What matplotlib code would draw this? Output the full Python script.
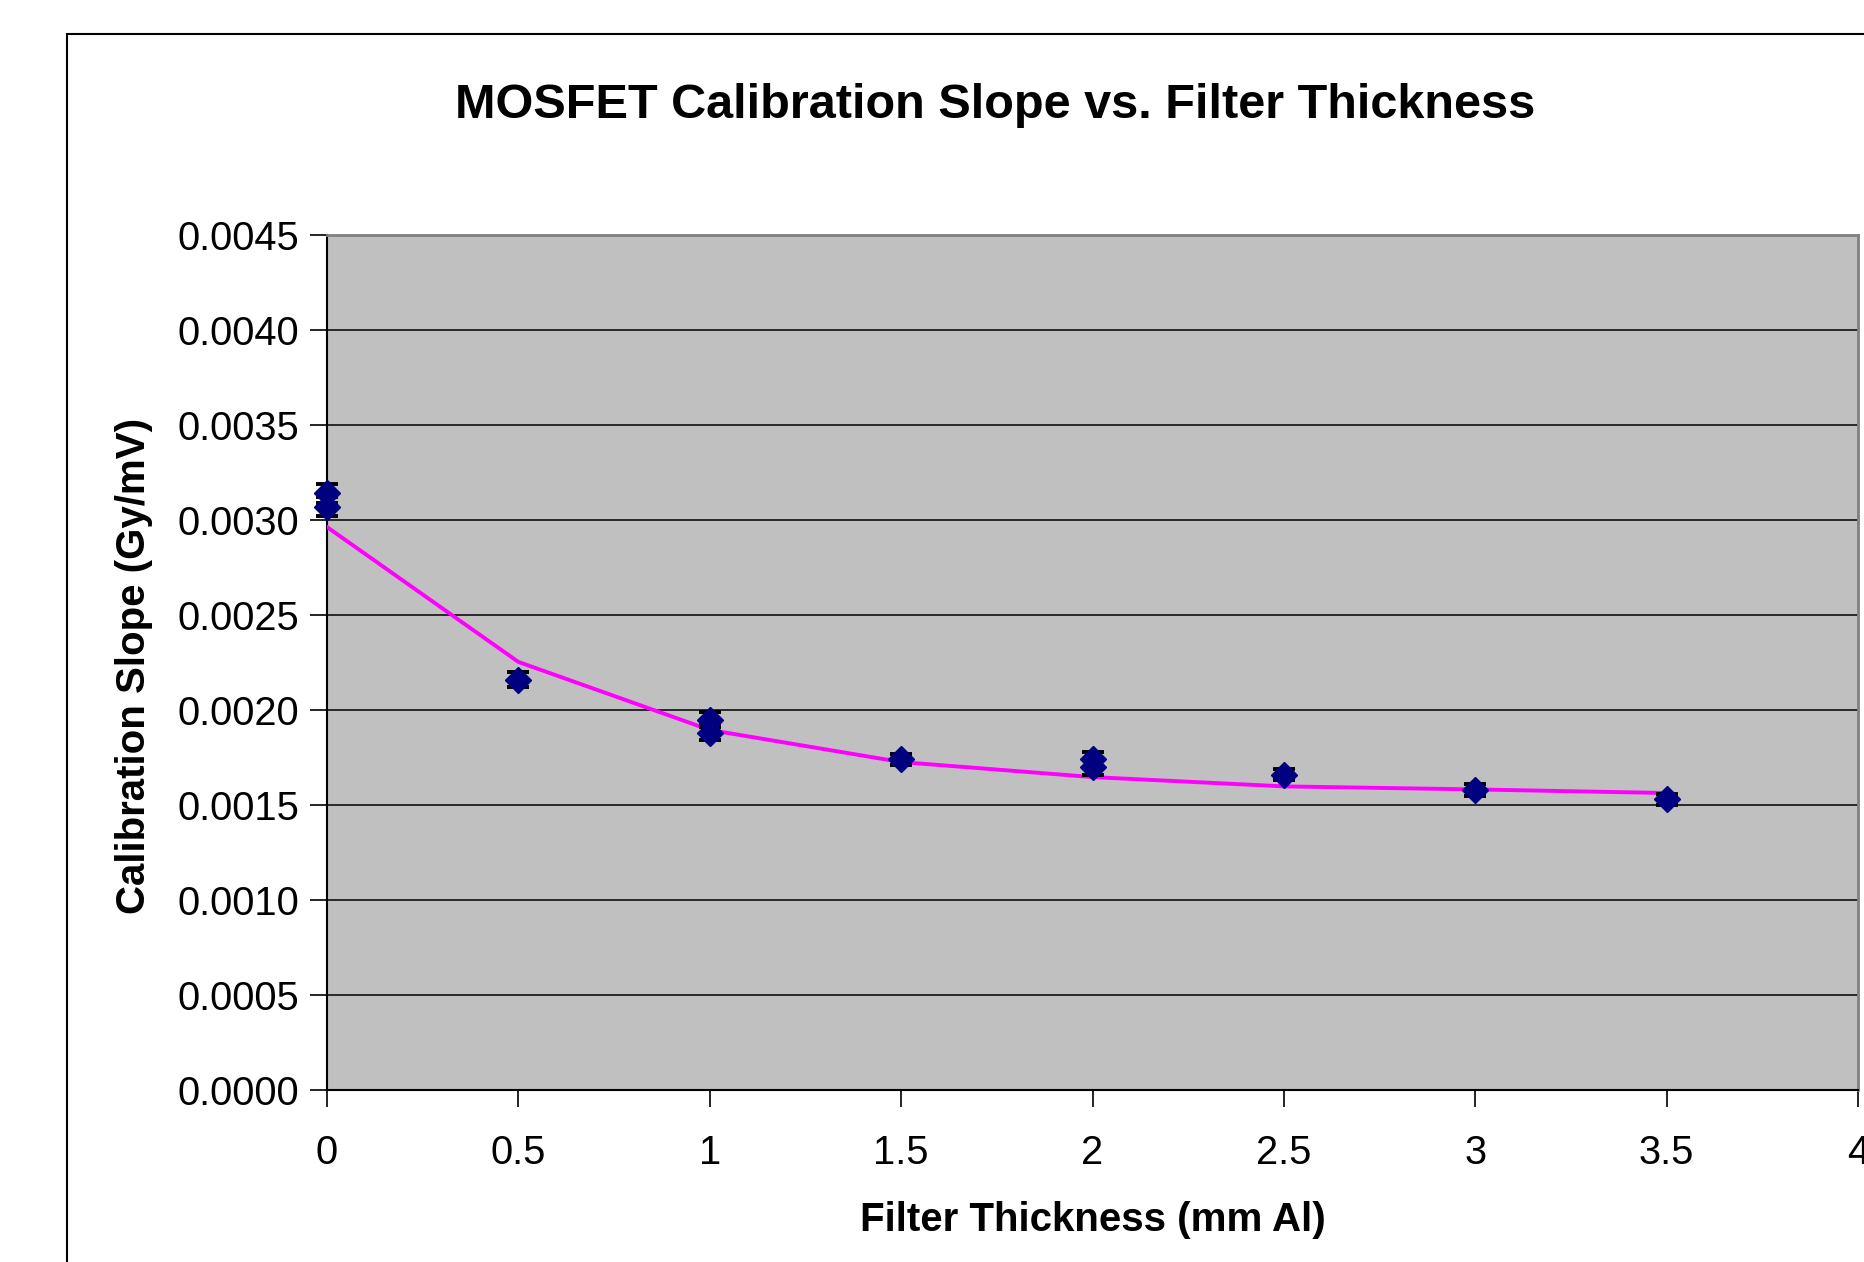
import matplotlib
matplotlib.use("Agg")
import matplotlib.pyplot as plt
from matplotlib.patches import Rectangle

plt.rcParams['font.family'] = ['Liberation Sans', 'DejaVu Sans']

# Measured data
meas_x = [0, 0, 0.5, 1, 1, 1.5, 2, 2, 2.5, 3, 3.5]
meas_y = [0.00314, 0.00307, 0.00216, 0.00195, 0.00188, 0.00174, 0.00174, 0.00170, 0.00166, 0.00158, 0.00153]
meas_err = [0.00005, 0.00005, 0.00004, 0.00004, 0.00004, 0.00003, 0.00004, 0.00004, 0.00003, 0.00003, 0.00003]

# Fitted curve
fit_x = [0, 0.5, 1, 1.5, 2, 2.5, 3, 3.5]
fit_y = [0.002963, 0.002253, 0.001895, 0.001726, 0.001647, 0.001598, 0.001582, 0.001563]

yticks = [0.0, 0.0005, 0.0010, 0.0015, 0.0020, 0.0025, 0.0030, 0.0035, 0.0040, 0.0045]
xticks = [0, 0.5, 1, 1.5, 2, 2.5, 3, 3.5, 4]
xticklabels = ['0', '0.5', '1', '1.5', '2', '2.5', '3', '3.5', '4']

fig = plt.figure(figsize=(18.64, 12.62), dpi=100)
fig.patches.append(Rectangle((67/1864, 1-1300/1262), 1.2, (1300-34)/1262,
                             transform=fig.transFigure, fill=False,
                             edgecolor='black', linewidth=1.5))

ax = fig.add_axes([327/1864, 1-1090/1262, (1858-327)/1864, (1090-235)/1262])
ax.set_facecolor('#C0C0C0')
ax.set_xlim(0, 4)
ax.set_ylim(0, 0.0045)
ax.set_yticks(yticks)
ax.set_yticklabels([f'{v:.4f}' for v in yticks])
ax.set_xticks(xticks)
ax.set_xticklabels(xticklabels)
ax.yaxis.grid(True, color='black', linewidth=1.1)
ax.set_axisbelow(True)
ax.tick_params(axis='both', direction='out', length=12, width=1.2, labelsize=28.7, pad=8)
ax.tick_params(axis='x', pad=20)
for s in ['top', 'right']:
    ax.spines[s].set_color('#808080')
    ax.spines[s].set_linewidth(2)
for s in ['left', 'bottom']:
    ax.spines[s].set_color('black')
    ax.spines[s].set_linewidth(1.5)

ax.plot(fit_x, fit_y, color='#FF00FF', linewidth=2.8, zorder=3)
ax.errorbar(meas_x, meas_y, yerr=meas_err, fmt='none',
            ecolor='black', elinewidth=1.5, capsize=8, capthick=2.8, zorder=4, clip_on=False)
ax.plot(meas_x, meas_y, linestyle='none', marker='D', color='#000080',
        markeredgecolor='#000080', markersize=13.5, zorder=5, clip_on=False)

fig.text(995/1864, 1-105/1262, 'MOSFET Calibration Slope vs. Filter Thickness',
         ha='center', va='center', fontsize=35, fontweight='bold')
fig.text(1093/1864, 1-1220/1262, 'Filter Thickness (mm Al)',
         ha='center', va='center', fontsize=29, fontweight='bold')
fig.text(134/1864, 1-666/1262, 'Calibration Slope (Gy/mV)', rotation=90,
         ha='center', va='center', fontsize=29, fontweight='bold')

fig.savefig('out.png', dpi=100)
